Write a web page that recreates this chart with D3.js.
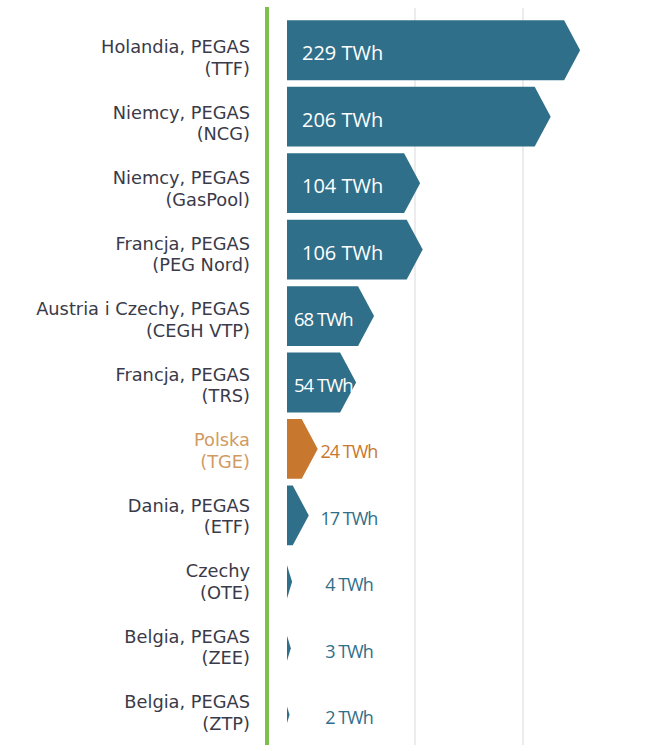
<!DOCTYPE html>
<html><head><meta charset="utf-8">
<script src="https://cdn.jsdelivr.net/npm/d3@7"></script>
<style>body{margin:0;background:#fff}svg{display:block}</style>
</head><body>
<script>
const names = [
  ["Holandia, PEGAS","(TTF)"],
  ["Niemcy, PEGAS","(NCG)"],
  ["Niemcy, PEGAS","(GasPool)"],
  ["Francja, PEGAS","(PEG Nord)"],
  ["Austria i Czechy, PEGAS","(CEGH VTP)"],
  ["Francja, PEGAS","(TRS)"],
  ["Polska","(TGE)"],
  ["Dania, PEGAS","(ETF)"],
  ["Czechy","(OTE)"],
  ["Belgia, PEGAS","(ZEE)"],
  ["Belgia, PEGAS","(ZTP)"]
];
const values = [229, 206, 104, 106, 68, 54, 24, 17, 4, 3, 2];
const highlight = [false,false,false,false,false,false,true,false,false,false,false];
const unit = "TWh";
const gridValues = [100, 200];

const W = 663, H = 751;
const teal = "#2f6f89", orange = "#c8772e", green = "#7cc04b";

const svg = d3.select("body").append("svg").attr("width", W).attr("height", H);

const idx = d3.range(values.length);
const y = d3.scaleBand().domain(idx).range([17, 748]).paddingInner(0.1).paddingOuter(0.05);
const yl = d3.scalePoint().domain(idx).range([57.5, 712.5]);
const x = d3.scaleLinear().domain([0, 250]).range([287, 287 + 250 * 1.28]);
const gx = d3.scaleLinear().domain([0, 200]).range([307, 523]);

// gridlines
svg.append("g").selectAll("line").data(gridValues).join("line")
  .attr("x1", d => gx(d)).attr("x2", d => gx(d))
  .attr("y1", 8).attr("y2", 745)
  .attr("stroke", "#d9d9d9").attr("stroke-width", 1);

// bars as arrow shapes
const bh = y.bandwidth();
function arrow(v, i) {
  const x0 = x(0), L = x(v) - x0;
  const cy = y(i) + bh / 2;
  const h = Math.min(bh, 6.5 * L);
  const d = Math.min(L, 16);
  const xb = x0 + L - d;
  return `M${x0},${cy - h/2}L${xb},${cy - h/2}L${x0 + L},${cy}L${xb},${cy + h/2}L${x0},${cy + h/2}Z`;
}
svg.append("g").selectAll("path").data(values).join("path")
  .attr("d", (v, i) => arrow(v, i))
  .attr("fill", (v, i) => highlight[i] ? orange : teal);

// value labels
svg.append("g").selectAll("text").data(values).join("text")
  .attr("x", (v) => v >= 100 ? x(0) + 15 : v >= 50 ? x(0) + 7 : 349)
  .attr("y", (v, i) => y(i) + bh / 2 + 3)
  .attr("dy", "0.36em")
  .attr("text-anchor", v => v >= 50 ? "start" : "middle")
  .attr("font-family", "Open Sans, sans-serif")
  .attr("font-size", v => v >= 100 ? 20 : v >= 50 ? 18.5 : 18)
  .attr("letter-spacing", v => v >= 100 ? 0 : -1)
  .attr("fill", (v, i) => v >= 50 ? "#ffffff" : (highlight[i] ? orange : teal))
  .text(v => `${v} ${unit}`);

// category labels (two lines each)
const lines = [];
names.forEach((pair, i) => pair.forEach((t, k) => lines.push({t, i, k})));
svg.append("g").selectAll("text").data(lines).join("text")
  .attr("x", 250)
  .attr("y", d => yl(d.i) + (d.k === 0 ? -10.75 : 10.75))
  .attr("dy", "0.36em")
  .attr("text-anchor", "end")
  .attr("font-family", "DejaVu Sans, sans-serif")
  .attr("font-size", 17.8)
  .attr("fill", d => highlight[d.i] ? "#d29a62" : "#3a3a48")
  .text(d => d.t);

// green axis line
svg.append("line").attr("x1", 267).attr("x2", 267).attr("y1", 7).attr("y2", 745)
  .attr("stroke", green).attr("stroke-width", 4);
</script>
</body></html>
